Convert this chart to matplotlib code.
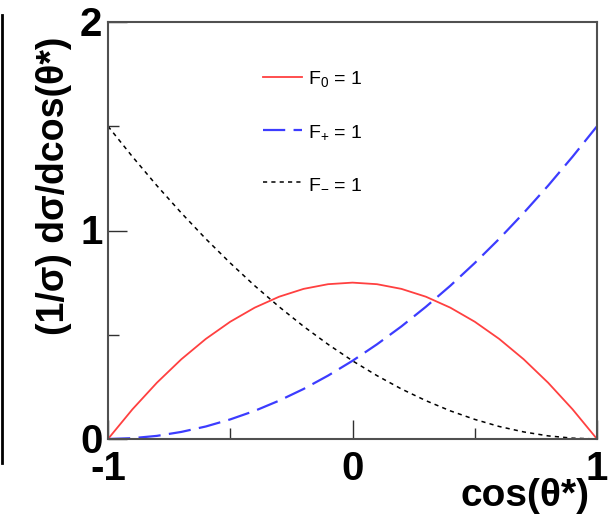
import matplotlib
matplotlib.use("Agg")
import matplotlib.pyplot as plt
from matplotlib.lines import Line2D

plt.rcParams['font.family'] = ['Liberation Sans', 'DejaVu Sans']
plt.rcParams['lines.scale_dashes'] = False
plt.rcParams['mathtext.fontset'] = 'custom'
plt.rcParams['mathtext.rm'] = 'Liberation Sans'
plt.rcParams['mathtext.it'] = 'Liberation Sans'
plt.rcParams['mathtext.bf'] = 'Liberation Sans:bold'

cos_theta = [-1.0, -0.9, -0.8, -0.7, -0.6, -0.5, -0.4, -0.3, -0.2, -0.1, 0.0,
             0.1, 0.2, 0.3, 0.4, 0.5, 0.6, 0.7, 0.8, 0.9, 1.0]
f_zero = [0.0, 0.1425, 0.27, 0.3825, 0.48, 0.5625, 0.63, 0.6825, 0.72, 0.7425, 0.75,
          0.7425, 0.72, 0.6825, 0.63, 0.5625, 0.48, 0.3825, 0.27, 0.1425, 0.0]
f_plus = [0.0, 0.004, 0.015, 0.034, 0.06, 0.094, 0.135, 0.184, 0.24, 0.304, 0.375,
          0.454, 0.54, 0.634, 0.735, 0.844, 0.96, 1.084, 1.215, 1.354, 1.5]
f_minus = [1.5, 1.354, 1.215, 1.084, 0.96, 0.844, 0.735, 0.634, 0.54, 0.454, 0.375,
           0.304, 0.24, 0.184, 0.135, 0.094, 0.06, 0.034, 0.015, 0.004, 0.0]
legend_labels = [r'F$_\mathrm{0}$ = 1', r'F$_{\mathrm{+}}$ = 1', r'F$_{\mathrm{-}}$ = 1']
x_ticks = [-1, 0, 1]
x_tick_labels = ['-1', '0', '1']
y_ticks = [0, 1, 2]
y_tick_labels = ['0', '1', '2']

fig = plt.figure(figsize=(6.10, 5.16), dpi=100)
W, H = 610, 516
left, right, top, bottom = 108, 597, 22, 439
ax = fig.add_axes([left / W, 1 - bottom / H, (right - left) / W, (bottom - top) / H])

red = '#ff4040'
blue = '#3c3cff'
l0, = ax.plot(cos_theta, f_zero, color=red, lw=1.3)
lp, = ax.plot(cos_theta, f_plus, color=blue, lw=1.6, dashes=(16, 6))
lm, = ax.plot(cos_theta, f_minus, color='black', lw=1.1, dashes=(3, 3))

ax.set_xlim(-1, 1)
ax.set_ylim(0, 2)
for s in ax.spines.values():
    s.set_color('#505050')
    s.set_linewidth(1.5)

ax.set_xticks(x_ticks)
ax.set_xticklabels([])
ax.set_yticks(y_ticks)
ax.set_yticklabels([])
ax.set_xticks([-0.5, 0.5], minor=True)
ax.set_yticks([0.5, 1.5], minor=True)
ax.tick_params(which='major', direction='in', length=14, width=1.0, color='#303030', top=False, right=False)
ax.tick_params(which='minor', direction='in', length=8, width=1.0, color='#303030', top=False, right=False)

tfont = dict(fontsize=29, fontweight='bold', color='black')
for v, t in zip(x_ticks, x_tick_labels):
    ax.annotate(t, xy=(v, 0), xycoords=('data', 'axes fraction'), xytext=(0, -8),
                textcoords='offset points', ha='center', va='top', **tfont)
for v, t in zip(y_ticks, y_tick_labels):
    ax.annotate(t, xy=(0, v), xycoords=('axes fraction', 'data'), xytext=(-4, -2),
                textcoords='offset points', ha='right', va='center', **tfont)

fig.text(54 / W, 1 - 186 / H, '(1/σ) dσ/dcos(θ*)', rotation=90,
         ha='center', va='center', fontsize=27, fontweight='bold')
fig.text(590 / W, 1 - 496 / H, 'cos(θ*)', ha='right', va='center',
         fontsize=28, fontweight='bold')

leg = ax.legend([l0, lp, lm], legend_labels, loc='upper left', bbox_to_anchor=(0.282, 0.93),
                frameon=False, fontsize=14, handlelength=2.0, labelspacing=1.75,
                handletextpad=0.3)

fig.add_artist(Line2D([1.5 / W, 1.5 / W], [1 - 15 / H, 1 - 463 / H], color='black', lw=2.0))

fig.savefig('out.png', dpi=100)
